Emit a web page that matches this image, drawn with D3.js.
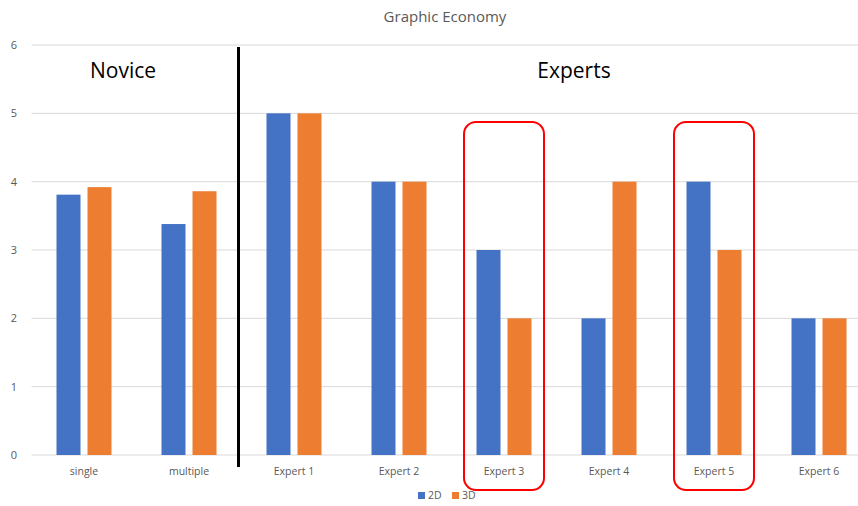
<!DOCTYPE html>
<html>
<head>
<meta charset="utf-8">
<script src="https://cdn.jsdelivr.net/npm/d3@7"></script>
<style>
  body { margin: 0; background: #fff; }
  svg { display: block; font-family: "Open Sans", "Noto Sans", sans-serif; }
</style>
</head>
<body>
<svg id="chart"></svg>
<script>
const categories = ["single", "multiple", "Expert 1", "Expert 2", "Expert 3", "Expert 4", "Expert 5", "Expert 6"];
const values2D = [3.81, 3.38, 5, 4, 3, 2, 4, 2];
const values3D = [3.92, 3.86, 5, 4, 2, 4, 3, 2];
const seriesNames = ["2D", "3D"];
const yTicks = [0, 1, 2, 3, 4, 5, 6];
const highlighted = ["Expert 3", "Expert 5"];

const size = { width: 858, height: 506 };
const margin = { top: 45, bottom: 51, left: 31.5, right: -13.5 };
const COLORS = ["#4472C4", "#ED7D31"];

const svg = d3.select("#chart").attr("width", size.width).attr("height", size.height);

const x = d3
  .scaleBand()
  .domain(categories)
  .range([margin.left, size.width - margin.right]);

const y = d3
  .scaleLinear()
  .domain([0, 6])
  .range([size.height - margin.bottom, margin.top]);

// gridlines
yTicks.forEach((t) => {
  svg
    .append("line")
    .attr("x1", margin.left)
    .attr("x2", size.width)
    .attr("y1", y(t))
    .attr("y2", y(t))
    .attr("stroke", "#d9d9d9")
    .attr("stroke-width", 1);
  svg
    .append("text")
    .text(t)
    .attr("x", 14)
    .attr("y", y(t) + 4)
    .attr("text-anchor", "middle")
    .attr("fill", "#595959")
    .style("font-size", "11px");
});

// title
svg
  .append("text")
  .text("Graphic Economy")
  .attr("x", 445)
  .attr("y", 22)
  .attr("text-anchor", "middle")
  .attr("fill", "#595959")
  .style("font-size", "15px");

// bars
const barW = 24;
const gap = 7;
const series = [values2D, values3D];
series.forEach((vals, s) => {
  svg
    .append("g")
    .attr("fill", COLORS[s])
    .selectAll("rect")
    .data(categories)
    .join("rect")
    .attr("x", (d) => x(d) + x.bandwidth() / 2 + (s === 0 ? -barW - gap / 2 : gap / 2))
    .attr("y", (d, i) => y(vals[i]))
    .attr("width", barW)
    .attr("height", (d, i) => y(0) - y(vals[i]));
});

// x labels
svg
  .append("g")
  .selectAll("text")
  .data(categories)
  .join("text")
  .text((d) => d)
  .attr("x", (d) => x(d) + x.bandwidth() / 2)
  .attr("y", y(0) + 20)
  .attr("text-anchor", "middle")
  .attr("fill", "#595959")
  .style("font-size", "10.5px");

// divider between novice and experts
const divX = x("Expert 1") - 3;
svg
  .append("line")
  .attr("x1", divX)
  .attr("x2", divX)
  .attr("y1", 47)
  .attr("y2", 467)
  .attr("stroke", "black")
  .attr("stroke-width", 3);

svg
  .append("text")
  .text("Novice")
  .attr("x", 123)
  .attr("y", 78)
  .attr("text-anchor", "middle")
  .attr("fill", "black")
  .style("font-size", "21px");

svg
  .append("text")
  .text("Experts")
  .attr("x", 574)
  .attr("y", 78)
  .attr("text-anchor", "middle")
  .attr("fill", "black")
  .style("font-size", "21px");

// highlight boxes
highlighted.forEach((c) => {
  svg
    .append("rect")
    .attr("x", x(c) + 12.5)
    .attr("y", 122)
    .attr("width", 80)
    .attr("height", 368)
    .attr("rx", 12)
    .attr("fill", "none")
    .attr("stroke", "#ff0000")
    .attr("stroke-width", 2);
});

// legend
const legend = svg.append("g").attr("transform", "translate(418, 499)");
seriesNames.forEach((name, i) => {
  const g = legend.append("g").attr("transform", `translate(${i * 34}, 0)`);
  g.append("rect").attr("x", 0).attr("y", -7).attr("width", 7).attr("height", 7).attr("fill", COLORS[i]);
  g.append("text")
    .text(name)
    .attr("x", 10)
    .attr("y", 0)
    .attr("fill", "#595959")
    .style("font-size", "10.5px");
});
</script>
</body>
</html>
